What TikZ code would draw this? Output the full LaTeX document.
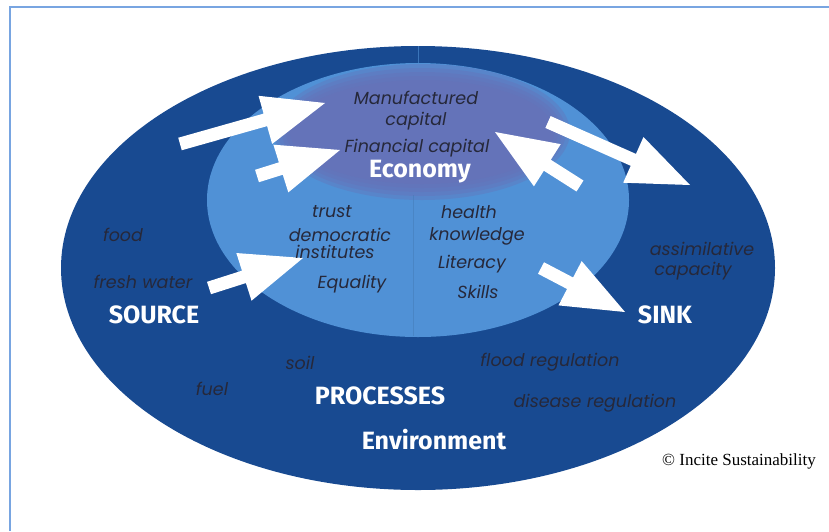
\documentclass[tikz,border=0pt]{standalone}
\usetikzlibrary{calc}
\usepackage{fontspec}
\setmainfont{Poppins}
\newfontfamily\headfont{Fira Sans}
\newfontfamily\creditfont{Liberation Serif}
\usepackage{xcolor}

\definecolor{envblue}{RGB}{24,74,145}
\definecolor{socblue}{RGB}{80,145,214}
\definecolor{econpurple}{RGB}{104,112,182}
\definecolor{textgray}{RGB}{38,40,58}
\definecolor{frameblue}{RGB}{120,165,225}

\tikzset{
    item/.style={font=\fontsize{17.5}{17.5}\selectfont\itshape, text=textgray, inner sep=0pt},
    heading/.style={font=\headfont\fontsize{25}{25}\selectfont\bfseries, text=white, inner sep=0pt},
    flow/.style={fill=white},
}

% block arrow from tail #1 to tip #2
\newcommand{\flowarrow}[2]{
    \coordinate (fa-base) at ($(#2)!62pt!(#1)$);
    \fill[flow] ($(#1)!6.5pt!90:(#2)$) -- ($(fa-base)!6.5pt!90:(#2)$) --
        ($(fa-base)!25pt!90:(#2)$) -- (#2) -- ($(fa-base)!25pt!-90:(#2)$) --
        ($(fa-base)!6.5pt!-90:(#2)$) -- ($(#1)!6.5pt!-90:(#2)$) -- cycle;
}

\begin{document}
\begin{tikzpicture}[x=1pt, y=-1pt]

    \useasboundingbox (0, 0) rectangle (829, 531);
    \draw[frameblue, line width=1.2pt] (10, 531) -- (10, 7) -- (829, 7);

    \fill[envblue] (418, 268) ellipse [x radius=357, y radius=222];
    \draw[socblue!60!envblue, line width=0.8pt] (418, 46) -- (418, 64);
    \fill[socblue] (418, 200) ellipse [x radius=211, y radius=137];

    \begin{scope}
        \clip (418, 200) ellipse [x radius=211, y radius=137];
        \foreach \r in {0,...,4} {
            \fill[econpurple, opacity=0.35] (422, 132) ellipse [x radius={148-4*\r}, y radius={68-4*\r}];
        }
    \end{scope}
    \draw[socblue!85!black, line width=0.8pt, opacity=0.5] (413, 195) -- (413, 336);

    % flows between the capitals
    \coordinate (in1t) at (180, 144);
    \coordinate (in1h) at (325, 103);
    \coordinate (in2t) at (257, 176);
    \coordinate (in2h) at (340, 150);
    \coordinate (back1t) at (580, 186);
    \coordinate (back1h) at (495, 132);
    \coordinate (out1t) at (548, 122);
    \coordinate (out1h) at (690, 185);
    \coordinate (in3t) at (209, 288);
    \coordinate (in3h) at (303, 258);
    \coordinate (out2t) at (541, 268);
    \coordinate (out2h) at (625, 312);

    \flowarrow{in1t}{in1h}
    \flowarrow{in2t}{in2h}
    \flowarrow{back1t}{back1h}
    \flowarrow{out1t}{out1h}
    \flowarrow{in3t}{in3h}
    \flowarrow{out2t}{out2h}

    \node[item] (manuf) at (416, 98) {Manufactured};
    \node[item] (mancap) at (416, 121) {capital};
    \node[item] (fincap) at (417, 148) {Financial capital};
    \node[heading] (economy) at (420, 172) {Economy};

    \node[item] (trust) at (332, 212) {trust};
    \node[item] (democ) at (340, 235) {democratic};
    \node[item] (inst) at (335, 252) {institutes};
    \node[item] (equal) at (352, 284) {Equality};

    \node[item] (health) at (469, 212) {health};
    \node[item] (know) at (477, 236) {knowledge};
    \node[item] (literacy) at (472, 264) {Literacy};
    \node[item] (skills) at (478, 292) {Skills};

    \node[item] (food) at (123, 235) {food};
    \node[item] (water) at (143, 282) {fresh water};
    \node[heading] (source) at (154, 315) {SOURCE};

    \node[item] (assim) at (702, 249) {assimilative};
    \node[item] (capac) at (693, 271) {capacity};
    \node[heading] (sink) at (665, 315) {SINK};

    \node[item] (soil) at (300, 363) {soil};
    \node[item] (flood) at (550, 362) {flood regulation};
    \node[item] (fuel) at (212, 389) {fuel};
    \node[heading] (processes) at (380, 396) {PROCESSES};
    \node[item] (disease) at (595, 403) {disease regulation};
    \node[heading] (environ) at (434, 440) {Environment};

    \node[font=\creditfont\fontsize{17}{17}\selectfont, inner sep=0pt] (credit) at (739, 461) {\textcopyright{} Incite Sustainability};

\end{tikzpicture}
\end{document}
